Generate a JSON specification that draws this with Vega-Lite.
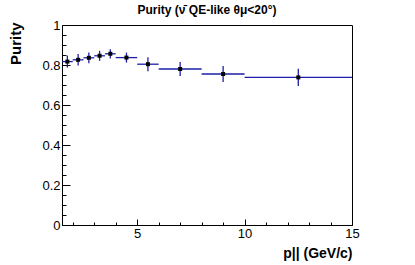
{
  "$schema": "https://vega.github.io/schema/vega-lite/v6.json",
  "width": 290,
  "height": 200,
  "autosize": {"type": "none"},
  "padding": {"left": 62, "top": 25, "right": 63, "bottom": 40},
  "background": "white",
  "config": {
    "view": {"stroke": "black", "strokeWidth": 1},
    "axis": {"grid": false, "domainColor": "black", "tickColor": "black", "labelColor": "black", "labelFont": "Liberation Sans", "labelFontSize": 13, "titleFont": "Liberation Sans", "domainWidth": 1, "tickWidth": 1}
  },
  "title": {"text": "Purity (ν̄ QE-like θμ<20°)", "font": "Liberation Sans", "fontSize": 12, "fontWeight": "bold", "color": "black", "anchor": "middle", "offset": 2},
  "data": {"values": [
    {"x": 1.75, "xlo": 1.5, "xhi": 2.0, "y": 0.817, "ylo": 0.787, "yhi": 0.847},
    {"x": 2.25, "xlo": 2.0, "xhi": 2.5, "y": 0.826, "ylo": 0.797, "yhi": 0.855},
    {"x": 2.75, "xlo": 2.5, "xhi": 3.0, "y": 0.836, "ylo": 0.809, "yhi": 0.863},
    {"x": 3.25, "xlo": 3.0, "xhi": 3.5, "y": 0.846, "ylo": 0.821, "yhi": 0.871},
    {"x": 3.75, "xlo": 3.5, "xhi": 4.0, "y": 0.856, "ylo": 0.833, "yhi": 0.879},
    {"x": 4.5, "xlo": 4.0, "xhi": 5.0, "y": 0.837, "ylo": 0.812, "yhi": 0.862},
    {"x": 5.5, "xlo": 5.0, "xhi": 6.0, "y": 0.804, "ylo": 0.769, "yhi": 0.839},
    {"x": 7.0, "xlo": 6.0, "xhi": 8.0, "y": 0.78, "ylo": 0.745, "yhi": 0.815},
    {"x": 9.0, "xlo": 8.0, "xhi": 10.0, "y": 0.755, "ylo": 0.715, "yhi": 0.795},
    {"x": 12.5, "xlo": 10.0, "xhi": 15.0, "y": 0.738, "ylo": 0.695, "yhi": 0.781}
  ]},
  "resolve": {"axis": {"x": "independent", "y": "independent"}},
  "layer": [
    {
      "mark": {"type": "rule", "color": "#1e1eaa", "strokeWidth": 1.3},
      "encoding": {
        "x": {"field": "xlo", "type": "quantitative", "scale": {"domain": [1.5, 15], "nice": false, "zero": false},
              "axis": {"orient": "bottom", "values": [5, 10, 15], "tickSize": -6, "labelPadding": 8, "labelFlush": false,
                       "title": "p|| (GeV/c)", "titleFontSize": 14, "titleFontWeight": "bold", "titleAnchor": "end", "titleAlign": "right", "titleX": 290, "titleY": 32, "titleBaseline": "alphabetic", "titleColor": "black"}},
        "x2": {"field": "xhi"},
        "y": {"field": "y", "type": "quantitative", "scale": {"domain": [0, 1], "nice": false},
              "axis": {"orient": "left", "values": [0, 0.2, 0.4, 0.6, 0.8, 1], "tickSize": -8, "labelPadding": 10, "labelFlush": false, "format": "~g",
                       "title": "Purity", "titleFontSize": 15, "titleFontWeight": "bold", "titleAnchor": "end", "titleAlign": "right", "titleAngle": -90, "titleX": -42, "titleY": -3, "titleBaseline": "alphabetic", "titleColor": "black"}}
      }
    },
    {
      "mark": {"type": "rule", "color": "#1e1eaa", "strokeWidth": 1.3},
      "encoding": {
        "x": {"field": "x", "type": "quantitative",
              "axis": {"orient": "bottom", "values": [2, 3, 4, 6, 7, 8, 9, 11, 12, 13, 14], "tickSize": -3, "labels": false, "domain": false, "title": null}},
        "y": {"field": "ylo", "type": "quantitative",
              "axis": {"orient": "left", "values": [0.05, 0.1, 0.15, 0.25, 0.3, 0.35, 0.45, 0.5, 0.55, 0.65, 0.7, 0.75, 0.85, 0.9, 0.95], "tickSize": -4, "labels": false, "domain": false, "title": null}},
        "y2": {"field": "yhi"}
      }
    },
    {
      "mark": {"type": "point", "shape": "square", "filled": true, "color": "black", "size": 16, "opacity": 1},
      "encoding": {
        "x": {"field": "x", "type": "quantitative", "axis": null},
        "y": {"field": "y", "type": "quantitative", "axis": null}
      }
    }
  ]
}
